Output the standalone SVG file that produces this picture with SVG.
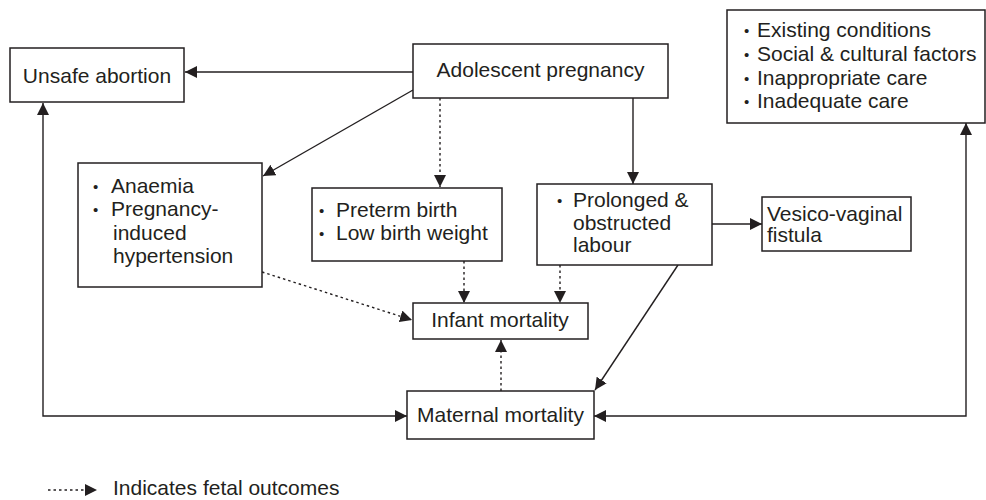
<svg xmlns="http://www.w3.org/2000/svg" width="986" height="500" viewBox="0 0 986 500">
<style>
.box{fill:#fff;stroke:#231f20;stroke-width:1.5}
text{font-family:"Liberation Sans",Arial,Helvetica,sans-serif;font-size:21px;fill:#231f20}
.b{font-size:15px}
.c{text-anchor:middle}
.ln{fill:none;stroke:#231f20;stroke-width:1.4}
.dot{fill:none;stroke:#231f20;stroke-width:1.4;stroke-dasharray:2.5 3}
</style>
<defs>
<marker id="ah" markerUnits="userSpaceOnUse" markerWidth="13" markerHeight="13" refX="12" refY="6" orient="auto-start-reverse" viewBox="0 0 13 13">
<path d="M0,0 L12,6 L0,12 z" fill="#231f20"/>
</marker>
</defs>
<rect width="986" height="500" fill="#fff"/>
<g id="connectors">
<line class="ln" x1="413" y1="72" x2="185" y2="72" marker-end="url(#ah)"/>
<line class="ln" x1="413" y1="90" x2="263" y2="176" marker-end="url(#ah)"/>
<line class="dot" x1="440" y1="98" x2="440" y2="187" marker-end="url(#ah)"/>
<line class="ln" x1="633" y1="98" x2="633" y2="184" marker-end="url(#ah)"/>
<line class="ln" x1="712" y1="224" x2="762" y2="224" marker-end="url(#ah)"/>
<line class="dot" x1="262" y1="272" x2="412" y2="320" marker-end="url(#ah)"/>
<line class="dot" x1="464" y1="261" x2="464" y2="303" marker-end="url(#ah)"/>
<line class="dot" x1="560" y1="265" x2="560" y2="303" marker-end="url(#ah)"/>
<line class="dot" x1="501" y1="391" x2="501" y2="340" marker-end="url(#ah)"/>
<line class="ln" x1="678" y1="265" x2="595" y2="390" marker-end="url(#ah)"/>
<polyline class="ln" points="407,416 43,416 43,103" marker-start="url(#ah)" marker-end="url(#ah)"/>
<polyline class="ln" points="594,416 966,416 966,123" marker-start="url(#ah)" marker-end="url(#ah)"/>
</g>
<g id="unsafe-abortion">
<rect class="box" x="10" y="48" width="174" height="54"/>
<text class="c" x="97" y="83">Unsafe abortion</text>
</g>
<g id="adolescent-pregnancy">
<rect class="box" x="413" y="44" width="255" height="54"/>
<text class="c" x="540.5" y="77">Adolescent pregnancy</text>
</g>
<g id="risk-factors">
<rect class="box" x="727" y="10" width="258" height="113"/>
<text><tspan class="b" x="744" y="36">•</tspan><tspan x="757" y="37">Existing conditions</tspan></text>
<text><tspan class="b" x="744" y="60">•</tspan><tspan x="757" y="61">Social &amp; cultural factors</tspan></text>
<text><tspan class="b" x="744" y="84">•</tspan><tspan x="757" y="85">Inappropriate care</tspan></text>
<text><tspan class="b" x="744" y="107">•</tspan><tspan x="757" y="108">Inadequate care</tspan></text>
</g>
<g id="anaemia">
<rect class="box" x="78" y="163" width="184" height="124"/>
<text><tspan class="b" x="93" y="192">•</tspan><tspan x="111" y="193">Anaemia</tspan></text>
<text><tspan class="b" x="93" y="215">•</tspan><tspan x="111" y="216">Pregnancy-</tspan></text>
<text x="113" y="240">induced</text>
<text x="113" y="263">hypertension</text>
</g>
<g id="preterm">
<rect class="box" x="312" y="188" width="190" height="73"/>
<text><tspan class="b" x="319" y="216">•</tspan><tspan x="336" y="217">Preterm birth</tspan></text>
<text><tspan class="b" x="319" y="239">•</tspan><tspan x="336" y="240">Low birth weight</tspan></text>
</g>
<g id="prolonged">
<rect class="box" x="537" y="184" width="175" height="81"/>
<text><tspan class="b" x="557" y="206">•</tspan><tspan x="573" y="207">Prolonged &amp;</tspan></text>
<text x="573" y="230">obstructed</text>
<text x="573" y="252">labour</text>
</g>
<g id="vesico-vaginal">
<rect class="box" x="762" y="197" width="149" height="54"/>
<text x="767" y="221">Vesico-vaginal</text>
<text x="767" y="242">fistula</text>
</g>
<g id="infant-mortality">
<rect class="box" x="413" y="303" width="175" height="36"/>
<text class="c" x="500" y="327">Infant mortality</text>
</g>
<g id="maternal-mortality">
<rect class="box" x="407" y="391" width="187" height="48"/>
<text class="c" x="500.5" y="422">Maternal mortality</text>
</g>
<g id="legend">
<line class="dot" x1="48" y1="490" x2="97" y2="490" marker-end="url(#ah)"/>
<text x="113" y="495">Indicates fetal outcomes</text>
</g>
</svg>
